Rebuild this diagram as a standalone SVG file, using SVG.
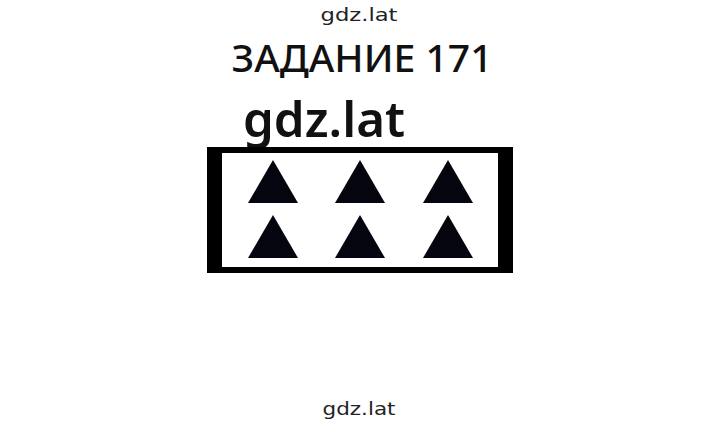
<svg xmlns="http://www.w3.org/2000/svg" width="720" height="425" viewBox="0 0 720 425">
<style>
.wm{font-family:"DejaVu Sans","Noto Sans",sans-serif;fill:#222;font-size:17px}
.tri{fill:#05050f}
</style>
<rect width="720" height="425" fill="#fff"/>
<text class="wm" x="359" y="21" text-anchor="middle" textLength="77" lengthAdjust="spacingAndGlyphs">gdz.lat</text>
<text x="362" y="72" text-anchor="middle" font-family="'Noto Sans','DejaVu Sans',sans-serif" font-size="38" font-weight="500" fill="#111" textLength="261" lengthAdjust="spacingAndGlyphs">ЗАДАНИЕ 171</text>
<text x="324" y="137" text-anchor="middle" font-family="'Noto Sans','DejaVu Sans',sans-serif" font-size="48" font-weight="600" fill="#111" textLength="162" lengthAdjust="spacingAndGlyphs">gdz.lat</text>
<g id="box">
<rect x="207" y="147" width="306" height="6" fill="#000"/>
<rect x="207" y="267" width="306" height="6" fill="#000"/>
<rect x="207" y="147" width="15" height="126" fill="#000"/>
<rect x="498" y="147" width="15" height="126" fill="#000"/>
</g>
<g id="triangles">
<polygon class="tri" points="273,160 298,203 248,203"/>
<polygon class="tri" points="360,160 385,203 335,203"/>
<polygon class="tri" points="448,160 473,203 423,203"/>
<polygon class="tri" points="273,215 298,258 248,258"/>
<polygon class="tri" points="360,215 385,258 335,258"/>
<polygon class="tri" points="448,215 473,258 423,258"/>
</g>
<text class="wm" x="359" y="415" text-anchor="middle" textLength="73" lengthAdjust="spacingAndGlyphs">gdz.lat</text>
</svg>
